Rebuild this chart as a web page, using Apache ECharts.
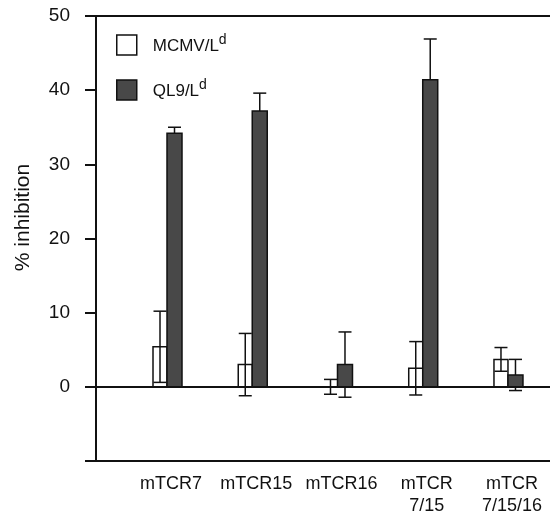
<!DOCTYPE html>
<html>
<head>
<meta charset="utf-8">
<script src="https://cdn.jsdelivr.net/npm/echarts@6/dist/echarts.min.js"></script>
<style>
  html, body { margin: 0; padding: 0; background: #fff; }
  #chart { width: 550px; height: 517px; }
</style>
</head>
<body>
<div id="chart"></div>
<script>
const categories = ['mTCR7', 'mTCR15', 'mTCR16', 'mTCR\n7/15', 'mTCR\n7/15/16']
const mcmv = [5.4, 3.0, 0.0, 2.5, 3.7]
const mcmvErr = [4.8, 4.2, 1.0, 3.6, 1.6]
const ql9 = [34.2, 37.2, 3.0, 41.4, 1.6]
const ql9Err = [0.8, 2.4, 4.4, 5.5, 2.1]
const yTicks = [-10, 0, 10, 20, 30, 40, 50]

const font = '"Liberation Sans", Arial, Helvetica, sans-serif'
const ink = '#111'
const grey = '#484848'

const chart = echarts.init(document.getElementById('chart'))

// one bar plus its error whisker; side -1 = left of centre, +1 = right
// whiskerOnTop: white bars show the whisker through them, grey ones hide it
const barRenderer = (side, fill, w, whiskerOnTop) => (params, api) => {
  const x = api.value(0)
  const v = api.value(1)
  const e = api.value(2)
  const c = api.coord([x, 0])[0]
  const y0 = api.coord([x, 0])[1]
  const yv = api.coord([x, v])[1]
  const yHi = api.coord([x, v + e])[1]
  const yLo = api.coord([x, v - e])[1]
  const left = side < 0 ? c - w : c
  const mid = left + w / 2
  const cap = 6.5
  const line = { stroke: ink, lineWidth: 1.5 }
  const bar = {
    type: 'rect',
    shape: { x: left, y: Math.min(yv, y0), width: w, height: Math.abs(y0 - yv) },
    style: { fill: fill, stroke: ink, lineWidth: 1.5 }
  }
  const whisker = [
    { type: 'line', shape: { x1: mid, y1: yHi, x2: mid, y2: yLo }, style: line },
    { type: 'line', shape: { x1: mid - cap, y1: yHi, x2: mid + cap, y2: yHi }, style: line },
    { type: 'line', shape: { x1: mid - cap, y1: yLo, x2: mid + cap, y2: yLo }, style: line }
  ]
  return {
    type: 'group',
    children: whiskerOnTop ? [bar, ...whisker] : [...whisker, bar]
  }
}

const xMin = 0.167
const xMax = 5.493

const option = {
  animation: false,
  grid: { left: 96, right: 0, top: 16, bottom: 49, containLabel: false },
  legend: {
    orient: 'vertical',
    left: 116,
    top: 33,
    padding: 0,
    itemWidth: 20,
    itemHeight: 20,
    itemGap: 21,
    icon: 'rect',
    selectedMode: false,
    data: [
      { name: 'MCMV/L', itemStyle: { color: '#fff', borderColor: ink, borderWidth: 1.5 } },
      { name: 'QL9/L', itemStyle: { color: grey, borderColor: ink, borderWidth: 1.5 } }
    ],
    formatter: name => `{a|${name}}{s|d}`,
    textStyle: {
      padding: [0, 0, 0, 11],
      rich: {
        a: { fontFamily: font, fontSize: 17, color: ink, lineHeight: 24, verticalAlign: 'bottom', padding: [0, 0, 2, 0] },
        s: { fontFamily: font, fontSize: 14, color: ink, lineHeight: 14, verticalAlign: 'top' }
      }
    }
  },
  xAxis: [
    {
      type: 'value',
      min: xMin,
      max: xMax,
      position: 'bottom',
      axisLine: { show: true, onZero: false, lineStyle: { color: ink, width: 2 } },
      axisTick: { show: false },
      splitLine: { show: false },
      axisLabel: {
        customValues: [1, 2, 3, 4, 5],
        formatter: v => categories[Math.round(v) - 1] || '',
        fontFamily: font,
        fontSize: 18,
        lineHeight: 22,
        color: ink,
        margin: 12,
        padding: [0, 0, 0, 8]
      }
    },
    {
      type: 'value',
      min: xMin,
      max: xMax,
      position: 'top',
      axisLine: { show: true, onZero: false, lineStyle: { color: ink, width: 2 } },
      axisTick: { show: false },
      axisLabel: { show: false },
      splitLine: { show: false }
    }
  ],
  yAxis: {
    type: 'value',
    min: -10,
    max: 50,
    interval: 10,
    name: '% inhibition',
    nameLocation: 'middle',
    nameGap: 62,
    nameTextStyle: { fontFamily: font, fontSize: 21, color: ink, padding: [0, 0, 0, 42] },
    axisLine: { show: true, lineStyle: { color: ink, width: 2 } },
    axisTick: { show: true, length: 11, lineStyle: { color: ink, width: 2 } },
    splitLine: { show: false },
    axisLabel: {
      fontFamily: font,
      fontSize: 19,
      color: ink,
      margin: 26,
      formatter: v => (yTicks.includes(v) && v >= 0 ? String(v) : '')
    }
  },
  series: [
    {
      name: 'MCMV/L',
      type: 'custom',
      itemStyle: { color: '#fff', borderColor: ink },
      renderItem: barRenderer(-1, '#fff', 14, true),
      data: mcmv.map((v, i) => [i + 1, v, mcmvErr[i]]),
      z: 3,
      markLine: {
        silent: true,
        symbol: ['none', 'none'],
        label: { show: false },
        lineStyle: { color: ink, width: 2, type: 'solid' },
        data: [{ yAxis: 0 }]
      }
    },
    {
      name: 'QL9/L',
      type: 'custom',
      itemStyle: { color: grey, borderColor: ink },
      renderItem: barRenderer(1, grey, 15, false),
      data: ql9.map((v, i) => [i + 1, v, ql9Err[i]]),
      z: 3
    }
  ]
}

chart.setOption(option)
</script>
</body>
</html>
